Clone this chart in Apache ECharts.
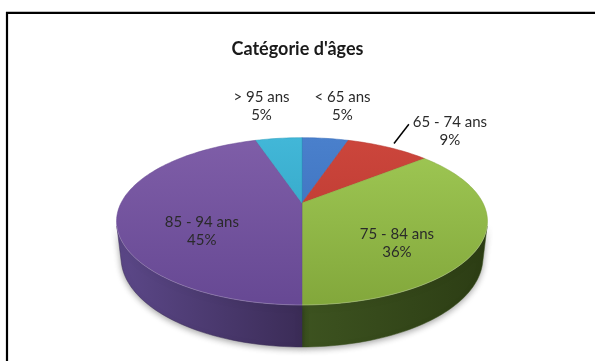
<!DOCTYPE html>
<html><head><meta charset="utf-8">
<script src="https://cdn.jsdelivr.net/npm/echarts@6/dist/echarts.min.js"></script>
<style>html,body{margin:0;padding:0;background:#fff}#c{width:595px;height:361px}</style>
</head><body><div id="c"></div>
<script>
const chartTitle = "Catégorie d'âges";
const categories = ['< 65 ans', '65 - 74 ans', '75 - 84 ans', '85 - 94 ans', '> 95 ans'];
const values = [5, 9, 36, 45, 5];

const topColors = [['#4a80cc', '#3469b6'], ['#cc463c', '#b5342d'], ['#a0c955', '#82a73b'], ['#7f5ea8', '#664893'], ['#42b7d8', '#2b9cba']];
const wallColors = [['#2f5a96', '#244a80', '#1c3c6a'], ['#8e2a24', '#7a221d', '#641a16'], ['#4c6626', '#3d5320', '#2c3d14'], ['#5c4889', '#3b2c57', '#2f2346'], ['#2d8aa6', '#22718a', '#1a5c70']];

const chart = echarts.init(document.getElementById('c'), null, { renderer: 'canvas' });
const total = values.reduce((a, b) => a + b, 0);
const cum = []; let acc = 0; values.forEach(v => { cum.push(acc); acc += v; });

const G = { cx: 302, cy: 203, F: 742, D: 4.1, s: 0.44, H: 0.223 };
G.c = Math.sqrt(1 - G.s * G.s);
const RAD = Math.PI / 180;
function proj(X, Y, Z) {
  const d = G.D + Y * G.c - Z * G.s;
  return [G.cx + G.F * X / d, G.cy - G.F * (Y * G.s + Z * G.c) / d];
}
function arc(a0, a1, r, Z) {
  const n = Math.max(2, Math.ceil(Math.abs(a1 - a0) / 1.5));
  const pts = [];
  for (let i = 0; i <= n; i++) {
    const a = (a0 + (a1 - a0) * i / n) * RAD;
    pts.push(proj(r * Math.cos(a), r * Math.sin(a), Z));
  }
  return pts;
}
const alpha = Math.asin(1 / (G.D * G.c)) / RAD;
const V0 = -180 + alpha, V1 = -alpha;

const mctx = document.createElement('canvas').getContext('2d');
mctx.font = '15px Lato';

function renderItem(params, api) {
  const i = params.dataIndex;
  const v = api.value(0);
  const a0 = 90 - 360 * cum[i] / total;
  const a1 = a0 - 360 * v / total;
  const children = [];
  const topPts = [proj(0, 0, 0)].concat(arc(a0, a1, 1, 0));
  children.push({
    type: 'polygon', z2: 10,
    shape: { points: topPts },
    style: {
      fill: new echarts.graphic.LinearGradient(0, 137, 0, 307, [{ offset: 0, color: topColors[i][0] }, { offset: 1, color: topColors[i][1] }], true),
      stroke: topColors[i][1], lineWidth: 0.5
    }
  });
  for (let k = -1; k <= 1; k++) {
    const lo = Math.max(a1, V0 + 360 * k), hi = Math.min(a0, V1 + 360 * k);
    if (hi > lo) {
      const tp = arc(lo, hi, 1, 0);
      const bp = arc(hi, lo, 1, -G.H);
      children.push({
        type: 'polygon', z2: 2,
        shape: { points: tp.concat(bp) },
        style: {
          fill: new echarts.graphic.LinearGradient(116, 0, 488, 0, [
            { offset: 0, color: wallColors[i][0] },
            { offset: 0.5, color: wallColors[i][1] },
            { offset: 1, color: wallColors[i][2] }], true),
          stroke: wallColors[i][1], lineWidth: 0.5,
          shadowBlur: 6, shadowColor: 'rgba(0,0,0,0.35)', shadowOffsetY: 2
        }
      });
      children.push({
        type: 'polyline', z2: 11,
        shape: { points: tp },
        style: { stroke: 'rgba(255,255,255,0.22)', lineWidth: 1, fill: null }
      });
    }
  }
  const mid = (a0 + a1) / 2 * RAD;
  const cm = Math.cos(mid), sm = Math.sin(mid);
  const frac = v / total;
  const text = categories[i] + '\n' + Math.round(frac * 100) + '%';
  let p, e = proj(cm, sm, 0);
  if (frac > 0.15) {
    p = proj(0.55 * cm, 0.55 * sm, 0);
    p[1] += 21;
  } else {
    p = [e[0] + 110 * cm, e[1] - 34 * Math.sign(sm) * Math.pow(sm, 4)];
    const dx = p[0] - e[0], dy = p[1] - e[1];
    if (Math.sqrt(dx * dx + dy * dy) > 50) {
      const ox = e[0] - G.cx, oy = e[1] - G.cy, ol = Math.sqrt(ox * ox + oy * oy);
      const st = [e[0] + 7 * ox / ol, e[1] + 7 * oy / ol];
      const w = mctx.measureText(categories[i]).width;
      const en = [p[0] - w / 2 - 4, p[1] - 7];
      children.push({
        type: 'line', z2: 30,
        shape: { x1: st[0], y1: st[1], x2: en[0], y2: en[1] },
        style: { stroke: '#000', lineWidth: 1.5 }
      });
    }
  }
  children.push({
    type: 'text', z2: 40,
    style: {
      text: text, x: p[0], y: p[1], align: 'center', verticalAlign: 'middle',
      fontSize: 15, fontFamily: 'Lato', fill: '#2a2a2a', lineHeight: 18
    }
  });
  return { type: 'group', children: children };
}

chart.setOption({
  animation: false,
  backgroundColor: '#fff',
  title: {
    text: chartTitle, left: 'center', top: 35,
    textStyle: { fontFamily: 'Lato', fontWeight: 'bold', fontSize: 18, color: '#1a1a1a' }
  },
  graphic: [{
    type: 'rect', silent: true,
    shape: { x: 7, y: 12.8, width: 800, height: 600 },
    style: { fill: 'none', stroke: '#000', lineWidth: 2.2 }
  }],
  series: [{
    type: 'custom', coordinateSystem: 'none', silent: true,
    renderItem: renderItem,
    data: values
  }]
});
</script></body></html>
